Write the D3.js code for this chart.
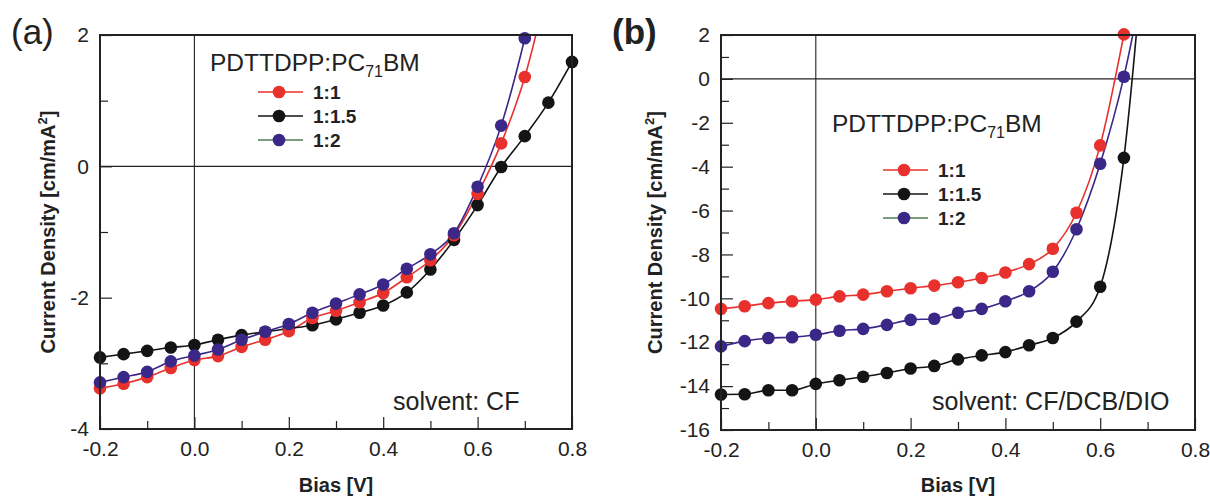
<!DOCTYPE html>
<html>
<head>
<meta charset="utf-8">
<script src="https://cdn.jsdelivr.net/npm/d3@7"></script>
<style>
  body { margin: 0; background: #fff; }
  text { font-family: "Liberation Sans", Arial, sans-serif; fill: #222; }
</style>
</head>
<body>
<svg id="chart" width="1210" height="500"></svg>
<script>
// panel (a) - solvent CF
var biasA = [-0.2, -0.15, -0.1, -0.05, 0.0, 0.05, 0.1, 0.15, 0.2, 0.25, 0.3, 0.35, 0.4, 0.45, 0.5, 0.55, 0.6, 0.65, 0.7, 0.75, 0.8];
var aRed    = [-3.38, -3.31, -3.21, -3.07, -2.95, -2.89, -2.75, -2.64, -2.51, -2.31, -2.20, -2.07, -1.93, -1.69, -1.43, -1.05, -0.42, 0.35, 1.36, 2.8];
var aBlack  = [-2.91, -2.86, -2.81, -2.76, -2.72, -2.64, -2.57, -2.52, -2.47, -2.42, -2.33, -2.23, -2.12, -1.92, -1.57, -1.12, -0.59, -0.01, 0.46, 0.97, 1.59];
var aPurple = [-3.29, -3.21, -3.13, -2.97, -2.88, -2.79, -2.64, -2.52, -2.40, -2.23, -2.09, -1.95, -1.80, -1.56, -1.34, -1.02, -0.31, 0.62, 1.95, 3.6];

// panel (b) - solvent CF/DCB/DIO
var biasB = [-0.2, -0.15, -0.1, -0.05, 0.0, 0.05, 0.1, 0.15, 0.2, 0.25, 0.3, 0.35, 0.4, 0.45, 0.5, 0.55, 0.6, 0.65, 0.7];
var bRed    = [-10.48, -10.36, -10.22, -10.13, -10.06, -9.91, -9.83, -9.68, -9.54, -9.42, -9.27, -9.07, -8.82, -8.44, -7.74, -6.10, -3.03, 2.03];
var bBlack  = [-14.38, -14.37, -14.19, -14.19, -13.90, -13.73, -13.57, -13.40, -13.20, -13.08, -12.78, -12.60, -12.45, -12.14, -11.81, -11.06, -9.47, -3.60, 8];
var bPurple = [-12.19, -11.95, -11.81, -11.77, -11.66, -11.48, -11.39, -11.21, -10.98, -10.93, -10.66, -10.48, -10.13, -9.68, -8.79, -6.85, -3.87, 0.10, 5.5];

var ratios = ["1:1", "1:1.5", "1:2"];
var colors = ["#e8312d", "#141414", "#3b2787"];
var legendLine = ["#e8312d", "#141414", "#4f7d52"];

var xTicksMajor = [-0.2, 0.0, 0.2, 0.4, 0.6, 0.8];
var xTicksMinor = [-0.1, 0.1, 0.3, 0.5, 0.7];

var svg = d3.select("#chart");

function drawPanel(opt) {
    var g = svg.append("g").attr("transform", "translate(" + opt.left + "," + opt.top + ")");
    var w = opt.width, h = opt.height;

    var x = d3.scaleLinear().domain([-0.2, 0.8]).range([0, w]);
    var y = d3.scaleLinear().domain(opt.yDomain).range([h, 0]);

    var clipId = "clip-" + opt.id;
    g.append("clipPath").attr("id", clipId)
        .append("rect").attr("width", w).attr("height", h);

    // zero lines
    g.append("line").attr("x1", 0).attr("x2", w).attr("y1", y(0)).attr("y2", y(0))
        .attr("stroke", "#222").attr("stroke-width", 1.1);
    g.append("line").attr("x1", x(0)).attr("x2", x(0)).attr("y1", 0).attr("y2", h)
        .attr("stroke", "#222").attr("stroke-width", 1.1);

    // axes (ticks inward)
    var xMajor = g.append("g").attr("transform", "translate(0," + h + ")")
        .call(d3.axisBottom(x).tickValues(xTicksMajor).tickSize(-12).tickPadding(12).tickFormat(d3.format(".1f")));
    var xMinor = g.append("g").attr("transform", "translate(0," + h + ")")
        .call(d3.axisBottom(x).tickValues(xTicksMinor).tickSize(-8).tickFormat(""));
    var yMajor = g.append("g")
        .call(d3.axisLeft(y).tickValues(opt.yMajor).tickSize(-12).tickPadding(11).tickFormat(d3.format("d")));
    var yMinor = g.append("g")
        .call(d3.axisLeft(y).tickValues(opt.yMinor).tickSize(-8).tickFormat(""));

    [xMajor, xMinor, yMajor, yMinor].forEach(function (a) {
        a.select(".domain").remove();
        a.selectAll(".tick line").attr("stroke", "#222").attr("stroke-width", 1.2);
        a.selectAll("text").style("font-size", "21px").attr("fill", "#222")
            .style("font-family", "'Liberation Sans', Arial, sans-serif");
    });
    xMajor.selectAll("text").text(function (d) { return d3.format(".1f")(d).replace("−", "-"); });
    yMajor.selectAll("text").text(function (d) { return String(d); });

    // curves
    var line = d3.line()
        .x(function (d) { return x(d[0]); })
        .y(function (d) { return y(d[1]); })
        .curve(d3.curveMonotoneX);

    opt.series.forEach(function (s, i) {
        var pts = s.map(function (v, j) { return [opt.bias[j], v]; });
        g.append("path")
            .datum(pts)
            .attr("clip-path", "url(#" + clipId + ")")
            .attr("fill", "none")
            .attr("stroke", colors[i])
            .attr("stroke-width", 1.6)
            .attr("d", line);
    });
    opt.order.forEach(function (i) {
        var pts = opt.series[i].map(function (v, j) { return [opt.bias[j], v]; })
            .filter(function (d) { return d[1] <= opt.yDomain[1] + 0.1; });
        g.selectAll(null).data(pts).enter().append("circle")
            .attr("cx", function (d) { return x(d[0]); })
            .attr("cy", function (d) { return y(d[1]); })
            .attr("r", 6.3)
            .attr("fill", colors[i]);
    });

    // frame
    g.append("rect").attr("width", w).attr("height", h)
        .attr("fill", "none").attr("stroke", "#222").attr("stroke-width", 2);

    // axis titles
    g.append("text")
        .attr("x", w / 2).attr("y", 457)
        .attr("text-anchor", "middle")
        .style("font-size", "20px").style("font-weight", "bold")
        .text("Bias [V]");

    var yt = g.append("text")
        .attr("transform", "translate(" + opt.yTitleX + "," + (h / 2) + ") rotate(-90)")
        .attr("text-anchor", "middle")
        .style("font-size", "20px").style("font-weight", "bold");
    yt.append("tspan").text("Current Density [cm/mA");
    yt.append("tspan").attr("dy", -8).style("font-size", "13px").text("2");
    yt.append("tspan").attr("dy", 8).text("]");

    // legend
    var title = g.append("text")
        .attr("x", opt.legend.tx).attr("y", opt.legend.ty)
        .style("font-size", "24.5px");
    title.append("tspan").text("PDTTDPP:PC");
    title.append("tspan").attr("dy", 6).style("font-size", "16px").text("71");
    title.append("tspan").attr("dy", -6).text("BM");

    ratios.forEach(function (r, i) {
        var ly = opt.legend.ry + i * 24;
        g.append("line")
            .attr("x1", opt.legend.lx).attr("x2", opt.legend.lx + 45)
            .attr("y1", ly).attr("y2", ly)
            .attr("stroke", legendLine[i]).attr("stroke-width", 1.6);
        g.append("circle").attr("cx", opt.legend.lx + 21).attr("cy", ly)
            .attr("r", 6.3).attr("fill", colors[i]);
        g.append("text").attr("x", opt.legend.lx + 55).attr("y", ly + 7)
            .style("font-size", "19px").style("font-weight", "bold").text(r);
    });

    g.append("text")
        .attr("x", opt.solventX).attr("y", 375)
        .style("font-size", "25px")
        .text(opt.solvent);

    svg.append("text")
        .attr("x", opt.labelX).attr("y", 44)
        .style("font-size", "35px").style("font-weight", opt.labelWeight)
        .text(opt.label);
}

drawPanel({
    id: "a", left: 100, top: 35, width: 472, height: 394,
    bias: biasA, series: [aRed, aBlack, aPurple], order: [1, 0, 2],
    yDomain: [-4, 2], yMajor: [-4, -2, 0, 2], yMinor: [-3, -1, 1],
    yTitleX: -45,
    legend: { tx: 110, ty: 36, ry: 57, lx: 158 },
    solvent: "solvent: CF", solventX: 293,
    label: "(a)", labelX: 11, labelWeight: "normal"
});

drawPanel({
    id: "b", left: 721, top: 35, width: 474, height: 395,
    bias: biasB, series: [bRed, bBlack, bPurple], order: [1, 2, 0],
    yDomain: [-16, 2], yMajor: [-16, -14, -12, -10, -8, -6, -4, -2, 0, 2],
    yMinor: [-15, -13, -11, -9, -7, -5, -3, -1, 1],
    yTitleX: -59,
    legend: { tx: 111, ty: 97, ry: 135, lx: 162 },
    solvent: "solvent: CF/DCB/DIO", solventX: 211,
    label: "(b)", labelX: 612, labelWeight: "bold"
});
</script>
</body>
</html>
